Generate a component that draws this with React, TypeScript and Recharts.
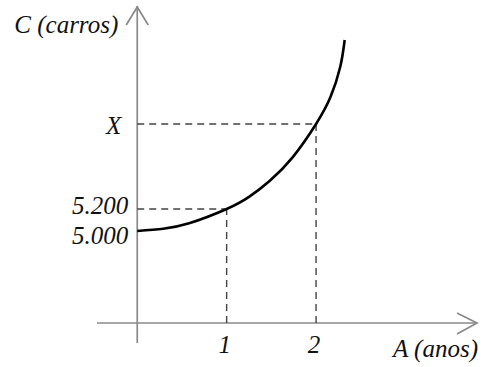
import { LineChart, Line, XAxis, YAxis, ReferenceLine, ReferenceDot } from 'recharts';

// curva C(A)
const anos = [0, 0.29, 0.58, 1, 1.25, 1.48, 1.74, 2, 2.16, 2.27, 2.32];
const carros = [5000, 5021, 5070, 5200, 5310, 5455, 5672, 5973, 6215, 6490, 6736];

// pontos destacados com tracejado
const marcasA = [1, 2];
const marcasC = [5200, 5973];
const rotulosA = ['1', '2'];

// rótulos do eixo C
const valoresY = [5000, 5200, 5973];
const rotulosY = ['5.000', '5.200', 'X'];

const dominioA = [-0.45, 3.8];
const dominioC = [3982, 7045];
const origemC = 4164; // onde passa o eixo A

const chartData = anos.map((a, i) => ({ a, c: carros[i] }));

const fonte = "'Liberation Serif', 'Times New Roman', serif";
const corEixo = '#8a8a8a';
const corTracejado = '#444';

// pequenos ajustes dos rótulos do eixo C
const ajusteY: Record<string, number> = { '5.000': 5, '5.200': -3, X: 2 };
const ajusteX: Record<string, number> = { X: -7 };

const textStyle = {
  fontFamily: fonte,
  fontStyle: 'italic' as const,
  fontSize: 25,
  fill: '#111',
};

export default function App() {
  return (
    <div style={{ position: 'absolute', left: 0, top: 0 }}>
      <LineChart
        width={481}
        height={367}
        data={chartData}
        margin={{ top: 6, right: 4, bottom: 24, left: 97 }}
      >
        <XAxis dataKey="a" type="number" domain={dominioA} hide />
        <YAxis type="number" domain={dominioC} hide />

        {/* eixos */}
        <ReferenceLine
          segment={[{ x: dominioA[0], y: origemC }, { x: dominioA[1], y: origemC }]}
          stroke={corEixo}
          strokeWidth={1.7}
        />
        <ReferenceLine
          segment={[{ x: 0, y: dominioC[0] }, { x: 0, y: dominioC[1] }]}
          stroke={corEixo}
          strokeWidth={1.7}
        />
        <ReferenceDot
          x={0}
          y={dominioC[1]}
          shape={(p: any) => (
            <g>
              <path
                d={`M${p.cx - 11},${p.cy + 19} L${p.cx},${p.cy + 1} L${p.cx + 11},${p.cy + 19}`}
                fill="none"
                stroke={corEixo}
                strokeWidth={1.7}
              />
              <text x={p.cx - 19} y={p.cy + 27} textAnchor="end" style={textStyle}>
                C (carros)
              </text>
            </g>
          )}
        />
        <ReferenceDot
          x={dominioA[1]}
          y={origemC}
          shape={(p: any) => (
            <g>
              <path
                d={`M${p.cx - 20},${p.cy - 10} L${p.cx},${p.cy} L${p.cx - 20},${p.cy + 11}`}
                fill="none"
                stroke={corEixo}
                strokeWidth={1.7}
              />
              <text x={p.cx + 1} y={p.cy + 34} textAnchor="end" style={textStyle}>
                A (anos)
              </text>
            </g>
          )}
        />

        {/* tracejados */}
        {marcasA.map((a, i) => (
          <ReferenceLine
            key={`h-${i}`}
            segment={[{ x: 0, y: marcasC[i] }, { x: a, y: marcasC[i] }]}
            stroke={corTracejado}
            strokeWidth={1.4}
            strokeDasharray="7 5"
          />
        ))}
        {marcasA.map((a, i) => (
          <ReferenceLine
            key={`v-${i}`}
            segment={[{ x: a, y: origemC }, { x: a, y: marcasC[i] }]}
            stroke={corTracejado}
            strokeWidth={1.4}
            strokeDasharray="7 5"
          />
        ))}

        {/* rótulos */}
        {marcasA.map((a, i) => (
          <ReferenceDot
            key={`la-${i}`}
            x={a}
            y={origemC}
            shape={(p: any) => (
              <text x={p.cx - 2} y={p.cy + 30} textAnchor="middle" style={textStyle}>
                {rotulosA[i]}
              </text>
            )}
          />
        ))}
        {valoresY.map((v, i) => (
          <ReferenceDot
            key={`lc-${i}`}
            x={0}
            y={v}
            shape={(p: any) => (
              <text
                x={p.cx - 9 + (ajusteX[rotulosY[i]] || 0)}
                y={p.cy + 8 + (ajusteY[rotulosY[i]] || 0)}
                textAnchor="end"
                style={textStyle}
              >
                {rotulosY[i]}
              </text>
            )}
          />
        ))}

        <Line
          dataKey="c"
          type="natural"
          stroke="#000"
          strokeWidth={2.6}
          dot={false}
          isAnimationActive={false}
        />
      </LineChart>
    </div>
  );
}
